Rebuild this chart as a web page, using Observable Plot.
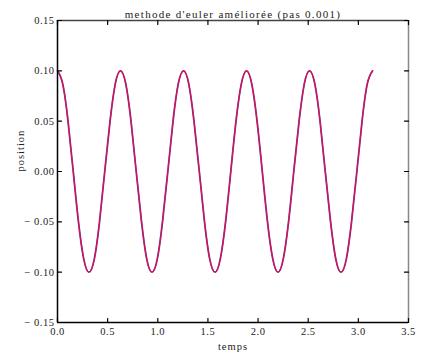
<!DOCTYPE html>
<html>
<head>
<meta charset="utf-8">
<script src="https://cdn.jsdelivr.net/npm/d3@7"></script>
<script src="https://cdn.jsdelivr.net/npm/@observablehq/plot@0.6"></script>
<style>
  html, body { margin: 0; padding: 0; background: #fff; }
</style>
</head>
<body>
<div id="chart"></div>
<script>
const titleText = "methode d'euler améliorée (pas 0.001)";
const xLabel = "temps";
const yLabel = "position";

const xTicks = [0, 0.5, 1.0, 1.5, 2.0, 2.5, 3.0, 3.5];
const yTicks = [-0.15, -0.10, -0.05, 0, 0.05, 0.10, 0.15];

// temps (s)
const temps = [
  0, 0.052, 0.105, 0.157, 0.209, 0.262, 0.314, 0.367, 0.419, 0.471, 0.524, 0.576,
  0.628, 0.681, 0.733, 0.785, 0.838, 0.890, 0.942, 0.995, 1.047, 1.100, 1.152, 1.204,
  1.257, 1.309, 1.361, 1.414, 1.466, 1.518, 1.571, 1.623, 1.676, 1.728, 1.780, 1.833,
  1.885, 1.937, 1.990, 2.042, 2.094, 2.147, 2.199, 2.251, 2.304, 2.356, 2.409, 2.461,
  2.513, 2.566, 2.618, 2.670, 2.723, 2.775, 2.827, 2.880, 2.932, 2.985, 3.037, 3.089,
  3.142
];
// position
const position = [
  0.100, 0.087, 0.050, 0.000, -0.050, -0.087, -0.100, -0.087, -0.050, 0.000, 0.050, 0.087,
  0.100, 0.087, 0.050, 0.000, -0.050, -0.087, -0.100, -0.087, -0.050, 0.000, 0.050, 0.087,
  0.100, 0.087, 0.050, 0.000, -0.050, -0.087, -0.100, -0.087, -0.050, 0.000, 0.050, 0.087,
  0.100, 0.087, 0.050, 0.000, -0.050, -0.087, -0.100, -0.087, -0.050, 0.000, 0.050, 0.087,
  0.100, 0.087, 0.050, 0.000, -0.050, -0.087, -0.100, -0.087, -0.050, 0.000, 0.050, 0.087,
  0.100
];

const data = temps.map((t, i) => ({t, p: position[i]}));

const tickShape = {draw(ctx, l) { ctx.moveTo(0, 0); ctx.lineTo(0, -l); }};
const fmtY = d => d < 0 ? "− " + Math.abs(d).toFixed(2) : d.toFixed(2);

const chart = Plot.plot({
  width: 426,
  height: 354,
  marginLeft: 57,
  marginRight: 18,
  marginTop: 20,
  marginBottom: 32,
  style: {fontFamily: "'Liberation Serif', 'DejaVu Serif', serif", fontSize: "10.5px", background: "#fff", color: "#222", letterSpacing: "0.5px"},
  x: {domain: [0, 3.5]},
  y: {domain: [-0.15, 0.15]},
  marks: [
    Plot.line(data, {x: "t", y: "p", stroke: "#6040c8", strokeWidth: 1.8, curve: "natural"}),
    Plot.line(data, {x: "t", y: "p", stroke: "#ee0a30", strokeWidth: 1.1, curve: "natural"}),
    Plot.ruleY([-0.15], {stroke: "#000", strokeWidth: 1.5}),
    Plot.ruleY([0.15], {stroke: "#444", strokeWidth: 1.5}),
    Plot.ruleX([0], {stroke: "#000", strokeWidth: 1.5}),
    Plot.ruleX([3.5], {stroke: "#888", strokeWidth: 1.5}),
    Plot.axisX({ticks: xTicks, tickSize: 0, tickPadding: 5, tickFormat: d => d.toFixed(1), label: null}),
    Plot.axisY({ticks: yTicks, tickSize: 0, tickPadding: 3, tickFormat: fmtY, label: null}),
    Plot.vector(xTicks, {x: d => d, frameAnchor: "bottom", length: 4, rotate: 0, anchor: "start", shape: tickShape, stroke: "#000", strokeWidth: 1.2}),
    Plot.vector(xTicks, {x: d => d, frameAnchor: "top", length: 4, rotate: 180, anchor: "start", shape: tickShape, stroke: "#000", strokeWidth: 1.2}),
    Plot.vector(yTicks, {y: d => d, frameAnchor: "left", length: 4, rotate: 90, anchor: "start", shape: tickShape, stroke: "#000", strokeWidth: 1.2}),
    Plot.vector(yTicks, {y: d => d, frameAnchor: "right", length: 4, rotate: -90, anchor: "start", shape: tickShape, stroke: "#000", strokeWidth: 1.2}),
    Plot.text([titleText], {frameAnchor: "top", lineAnchor: "bottom", dy: -3, fontSize: 11, fill: "#222"}),
    Plot.text([xLabel], {frameAnchor: "bottom", lineAnchor: "middle", dy: 24, fontSize: 10.5, fill: "#222"}),
    Plot.text([yLabel], {frameAnchor: "left", lineAnchor: "middle", dx: -37, rotate: -90, fontSize: 10.5, fill: "#222"})
  ]
});

d3.select(chart).selectAll("text").each(function() {
  if (this.textContent === titleText) this.style.letterSpacing = "1.3px";
  if (this.textContent === xLabel || this.textContent === yLabel) this.style.letterSpacing = "1px";
});

document.getElementById("chart").appendChild(chart);
</script>
</body>
</html>
